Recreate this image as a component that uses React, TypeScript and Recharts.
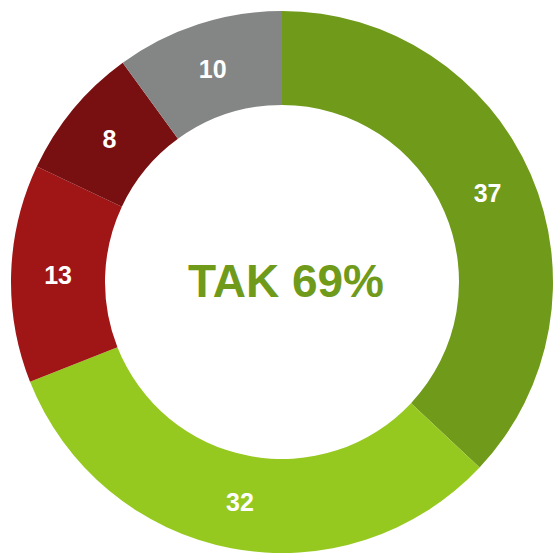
import React from 'react';
import { PieChart, Pie, Cell, Label } from 'recharts';

const answers = ['Zdecydowanie tak', 'Raczej tak', 'Raczej nie', 'Zdecydowanie nie', 'Nie wiem'];
const shares = [37, 32, 13, 8, 10];
const sliceColors = ['#709a1a', '#96c920', '#a01515', '#780f10', '#848685'];
const centerText = 'TAK 69%';

const data = answers.map((name, i) => ({ name, value: shares[i] }));

const RADIAN = Math.PI / 180;

// value label in the middle of the ring
const renderSliceLabel = (props: any) => {
  const { cx, cy, midAngle, innerRadius, outerRadius, value } = props;
  const r = (innerRadius + outerRadius) / 2;
  const x = cx + r * Math.cos(-midAngle * RADIAN);
  const y = cy + r * Math.sin(-midAngle * RADIAN);
  return (
    <text
      x={x}
      y={y}
      fill="#ffffff"
      textAnchor="middle"
      dominantBaseline="central"
      fontSize={25}
      fontWeight="bold"
    >
      {value}
    </text>
  );
};

const App: React.FC = () => {
  return (
    <div
      style={{
        position: 'absolute',
        left: 0,
        top: 0,
        width: 554,
        height: 553,
        background: '#ffffff',
        fontFamily: '"Liberation Sans", Arial, sans-serif',
      }}
    >
      <PieChart width={554} height={553} margin={{ top: 0, right: 0, bottom: 0, left: 0 }}>
        <Pie
          data={data}
          dataKey="value"
          nameKey="name"
          cx={282}
          cy={282}
          innerRadius={177}
          outerRadius={271}
          startAngle={90}
          endAngle={-270}
          stroke="none"
          label={renderSliceLabel}
          labelLine={false}
          isAnimationActive={false}
        >
          {data.map((entry, index) => (
            <Cell key={`cell-${entry.name}`} fill={sliceColors[index]} />
          ))}
          <Label
            value={centerText}
            position="center"
            dx={9}
            dy={4}
            fill="#709a1a"
            fontSize={46}
            fontWeight="bold"
          />
        </Pie>
      </PieChart>
    </div>
  );
};

export default App;
